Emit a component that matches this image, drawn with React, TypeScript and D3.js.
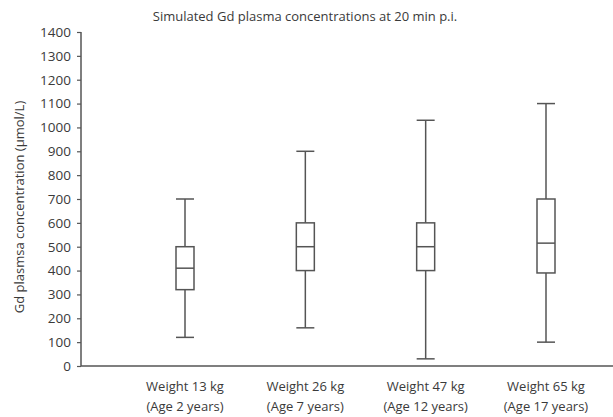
import { useEffect, useRef } from "react";
import { axisLeft, scaleLinear, scalePoint, select } from "d3";

const groups = ["w13", "w26", "w47", "w65"];
const labelLine1 = ["Weight 13 kg", "Weight 26 kg", "Weight 47 kg", "Weight 65 kg"];
const labelLine2 = ["(Age 2 years)", "(Age 7 years)", "(Age 12 years)", "(Age 17 years)"];
const whiskerLow = [120, 160, 30, 100];
const q1 = [320, 400, 400, 390];
const median = [410, 500, 500, 515];
const q3 = [500, 600, 600, 700];
const whiskerHigh = [700, 900, 1030, 1100];
const yTicks = [0, 100, 200, 300, 400, 500, 600, 700, 800, 900, 1000, 1100, 1200, 1300, 1400];

const W = 613;
const H = 417;
const axisX = 81;
const font = "'Open Sans', sans-serif";
const ink = "#555";
const textInk = "#3a3a3a";

function AxisLeft({ scale }) {
  const ref = useRef(null);
  useEffect(() => {
    if (ref.current) {
      const g = select(ref.current);
      g.call(axisLeft(scale).tickValues(yTicks).tickFormat((d) => String(d)).tickSize(4).tickPadding(6));
      g.select(".domain").remove();
      g.selectAll("line").attr("stroke", ink).attr("stroke-width", 1.2);
      g.selectAll("text")
        .attr("fill", textInk)
        .style("font-family", font)
        .style("font-size", "13.5px");
    }
  }, [scale]);
  return <g ref={ref} transform={`translate(${axisX},0)`} />;
}

export default function App() {
  const y = scaleLinear().domain([0, 1400]).range([366, 32]);
  const x = scalePoint().domain(groups).range([185, 546]);
  const boxW = 18;

  return (
    <svg width={W} height={H} style={{ position: "absolute", left: 0, top: 0 }}>
      <rect width={W} height={H} fill="#fff" />
      <text x={305} y={21} textAnchor="middle" fill={textInk}
        style={{ fontFamily: font, fontSize: 13 }}>
        Simulated Gd plasma concentrations at 20 min p.i.
      </text>
      <text transform={`translate(24,207) rotate(-90)`} textAnchor="middle" fill={textInk}
        style={{ fontFamily: font, fontSize: 13 }}>
        Gd plasmsa concentration (µmol/L)
      </text>
      <AxisLeft scale={y} />
      <line x1={axisX} x2={axisX} y1={y(1400)} y2={y(0)} stroke={ink} strokeWidth={1.5} />
      <line x1={axisX} x2={W} y1={y(0)} y2={y(0)} stroke={ink} strokeWidth={1.5} />
      {groups.map((gk, i) => {
        const cx = x(gk);
        return (
          <g key={gk} stroke={ink} strokeWidth={1.5} fill="none">
            <line x1={cx} x2={cx} y1={y(whiskerHigh[i])} y2={y(q3[i])} />
            <line x1={cx} x2={cx} y1={y(q1[i])} y2={y(whiskerLow[i])} />
            <line x1={cx - boxW / 2} x2={cx + boxW / 2} y1={y(whiskerHigh[i])} y2={y(whiskerHigh[i])} />
            <line x1={cx - boxW / 2} x2={cx + boxW / 2} y1={y(whiskerLow[i])} y2={y(whiskerLow[i])} />
            <rect x={cx - boxW / 2} y={y(q3[i])} width={boxW} height={y(q1[i]) - y(q3[i])} fill="#fff" />
            <line x1={cx - boxW / 2} x2={cx + boxW / 2} y1={y(median[i])} y2={y(median[i])} />
            <text x={cx} y={391} textAnchor="middle" fill={textInk} stroke="none"
              style={{ fontFamily: font, fontSize: 13 }}>{labelLine1[i]}</text>
            <text x={cx} y={411} textAnchor="middle" fill={textInk} stroke="none"
              style={{ fontFamily: font, fontSize: 13 }}>{labelLine2[i]}</text>
          </g>
        );
      })}
    </svg>
  );
}
